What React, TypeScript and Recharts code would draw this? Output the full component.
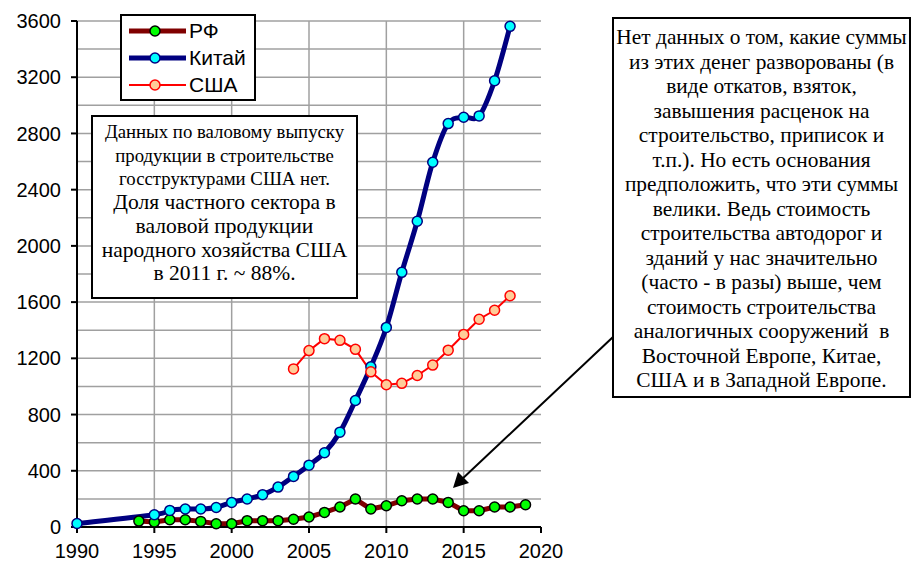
import React from 'react';
import {
  LineChart,
  Line,
  XAxis,
  YAxis,
  CartesianGrid,
  Legend,
} from 'recharts';

// Data
const YEARS = [
  1990, 1991, 1992, 1993, 1994, 1995, 1996, 1997, 1998, 1999,
  2000, 2001, 2002, 2003, 2004, 2005, 2006, 2007, 2008, 2009,
  2010, 2011, 2012, 2013, 2014, 2015, 2016, 2017, 2018, 2019,
];

const RF = [
  null, null, null, null, 42, 35, 52, 52, 40, 23,
  23, 45, 45, 45, 55, 71, 104, 142, 199, 128,
  151, 187, 199, 199, 175, 116, 116, 142, 142, 158,
];

const CHINA = [
  25, null, null, null, null, 87, 118, 128, 128, 139,
  175, 199, 230, 284, 360, 440, 528, 675, 900, 1140,
  1420, 1812, 2175, 2595, 2870, 2915, 2925, 3175, 3562, null,
];

const USA = [
  null, null, null, null, null, null, null, null, null, null,
  null, null, null, null, 1125, 1255, 1340, 1328, 1264, 1104,
  1012, 1022, 1078, 1152, 1258, 1370, 1478, 1542, 1645, null,
];

const X_TICKS = [1990, 1995, 2000, 2005, 2010, 2015, 2020];
const Y_TICKS = [0, 400, 800, 1200, 1600, 2000, 2400, 2800, 3200, 3600];
const Y_GRID = [
  0, 200, 400, 600, 800, 1000, 1200, 1400, 1600, 1800,
  2000, 2200, 2400, 2600, 2800, 3000, 3200, 3400, 3600,
];

const SERIES = [
  { key: 'rf', name: 'РФ', line: '#800000', fill: '#00ff00', dotStroke: '#000000', width: 5, smooth: false },
  { key: 'china', name: 'Китай', line: '#000080', fill: '#00ffff', dotStroke: '#000080', width: 5, smooth: true },
  { key: 'usa', name: 'США', line: '#ff0000', fill: '#ffcc99', dotStroke: '#ff0000', width: 2, smooth: false },
];

const NOTE_LEFT = [
  { text: 'Данных по валовому выпуску', big: false },
  { text: 'продукции в строительстве', big: false },
  { text: 'госструктурами США нет.', big: false },
  { text: 'Доля частного сектора в', big: true },
  { text: 'валовой продукции', big: true },
  { text: 'народного хозяйства США', big: true },
  { text: 'в 2011 г. ~ 88%.', big: true },
];

const NOTE_RIGHT = [
  'Нет данных о том, какие суммы',
  'из этих денег разворованы (в',
  'виде откатов, взяток,',
  'завышения расценок на',
  'строительство, приписок и',
  'т.п.). Но есть основания',
  'предположить, что эти суммы',
  'велики. Ведь стоимость',
  'строительства автодорог и',
  'зданий у нас значительно',
  '(часто - в разы) выше, чем',
  'стоимость строительства',
  'аналогичных сооружений  в',
  'Восточной Европе, Китае,',
  'США и в Западной Европе.',
];

const SANS = '"Liberation Sans", Arial, sans-serif';
const SERIF = '"Liberation Serif", "Times New Roman", "DejaVu Serif", serif';

const data = YEARS.map((year, i) => ({
  year,
  rf: RF[i],
  china: CHINA[i],
  usa: USA[i],
}));

// Excel-like smoothed line (Catmull-Rom through the points)
const excelSmooth = (context: any) => {
  let pts: number[][] = [];
  return {
    areaStart() {},
    areaEnd() {},
    lineStart() {
      pts = [];
    },
    lineEnd() {
      const n = pts.length;
      if (!n) return;
      context.moveTo(pts[0][0], pts[0][1]);
      for (let i = 0; i < n - 1; i++) {
        const p0 = pts[Math.max(i - 1, 0)];
        const p1 = pts[i];
        const p2 = pts[i + 1];
        const p3 = pts[Math.min(i + 2, n - 1)];
        context.bezierCurveTo(
          p1[0] + (p2[0] - p0[0]) / 6,
          p1[1] + (p2[1] - p0[1]) / 6,
          p2[0] - (p3[0] - p1[0]) / 6,
          p2[1] - (p3[1] - p1[1]) / 6,
          p2[0],
          p2[1],
        );
      }
    },
    point(x: number, y: number) {
      pts.push([+x, +y]);
    },
  };
};

const LegendBox = () => (
  <div
    style={{
      width: 136,
      height: 87,
      boxSizing: 'border-box',
      border: '2px solid #000',
      background: '#fff',
      fontFamily: SANS,
      fontSize: 21,
      paddingTop: 1,
    }}
  >
    {SERIES.map((s) => (
      <div key={s.key} style={{ display: 'flex', alignItems: 'center', height: 27 }}>
        <svg width={64} height={20} style={{ marginLeft: 5, flex: 'none' }}>
          <line x1={2} y1={10} x2={59} y2={10} stroke={s.line} strokeWidth={s.width} />
          <circle cx={28} cy={10} r={5} fill={s.fill} stroke={s.dotStroke} strokeWidth={1.5} />
        </svg>
        <span style={{ marginLeft: -2 }}>{s.name}</span>
      </div>
    ))}
  </div>
);

export default function App() {
  return (
    <div style={{ position: 'absolute', left: 0, top: 0, width: 912, height: 564, background: '#fff' }}>
      <LineChart
        width={912}
        height={564}
        data={data}
        margin={{ top: 21, right: 371, bottom: 7, left: 0 }}
      >
        <CartesianGrid
          stroke="#a0a0a0"
          strokeWidth={1.5}
          horizontalValues={Y_GRID}
          verticalValues={[1995, 2000, 2005, 2010, 2015]}
        />
        <XAxis
          dataKey="year"
          type="number"
          domain={[1990, 2020]}
          ticks={X_TICKS}
          interval={0}
          height={30}
          tickSize={6}
          tickMargin={11}
          axisLine={{ stroke: '#000', strokeWidth: 2 }}
          tickLine={{ stroke: '#000', strokeWidth: 2 }}
          tick={{ fill: '#000', fontSize: 20, fontFamily: SANS }}
        />
        <YAxis
          type="number"
          domain={[0, 3600]}
          ticks={Y_TICKS}
          interval={0}
          width={77}
          tickSize={6}
          tickMargin={10}
          axisLine={{ stroke: '#000', strokeWidth: 2 }}
          tickLine={{ stroke: '#000', strokeWidth: 2 }}
          tick={{ fill: '#000', fontSize: 20, fontFamily: SANS }}
        />
        <Legend
          layout="horizontal"
          verticalAlign="middle"
          align="center"
          wrapperStyle={{ left: 120, top: 14, width: 136, height: 87 }}
          content={() => <LegendBox />}
        />
        {SERIES.map((s) => (
          <Line
            key={s.key}
            dataKey={s.key}
            name={s.name}
            type={s.smooth ? (excelSmooth as any) : 'linear'}
            stroke={s.line}
            strokeWidth={s.width}
            connectNulls
            dot={{ r: 5, fill: s.fill, stroke: s.dotStroke, strokeWidth: 1.5 }}
            activeDot={false}
            isAnimationActive={false}
          />
        ))}
      </LineChart>

      <div
        style={{
          position: 'absolute',
          left: 91,
          top: 115,
          width: 267,
          height: 184,
          boxSizing: 'border-box',
          border: '2px solid #000',
          background: '#fff',
          fontFamily: SERIF,
          textAlign: 'center',
          color: '#000',
          paddingTop: 3,
          whiteSpace: 'nowrap',
        }}
      >
        {NOTE_LEFT.map((l) => (
          <div key={l.text} style={{ fontSize: l.big ? 21.5 : 18.8, lineHeight: '23.7px' }}>
            {l.text}
          </div>
        ))}
      </div>

      <div
        style={{
          position: 'absolute',
          left: 612,
          top: 17,
          width: 299,
          height: 381,
          boxSizing: 'border-box',
          border: '2px solid #000',
          background: '#fff',
          fontFamily: SERIF,
          fontSize: 21.4,
          lineHeight: '24.5px',
          textAlign: 'center',
          color: '#000',
          paddingTop: 6,
          whiteSpace: 'pre',
        }}
      >
        {NOTE_RIGHT.map((l) => (
          <div key={l}>{l}</div>
        ))}
      </div>

      <svg
        width={912}
        height={564}
        style={{ position: 'absolute', left: 0, top: 0, pointerEvents: 'none' }}
      >
        <line x1={613} y1={337} x2={460} y2={481} stroke="#000" strokeWidth={2} />
        <path d="M453,488 L458,472 L469,483 z" fill="#000" />
      </svg>
    </div>
  );
}
